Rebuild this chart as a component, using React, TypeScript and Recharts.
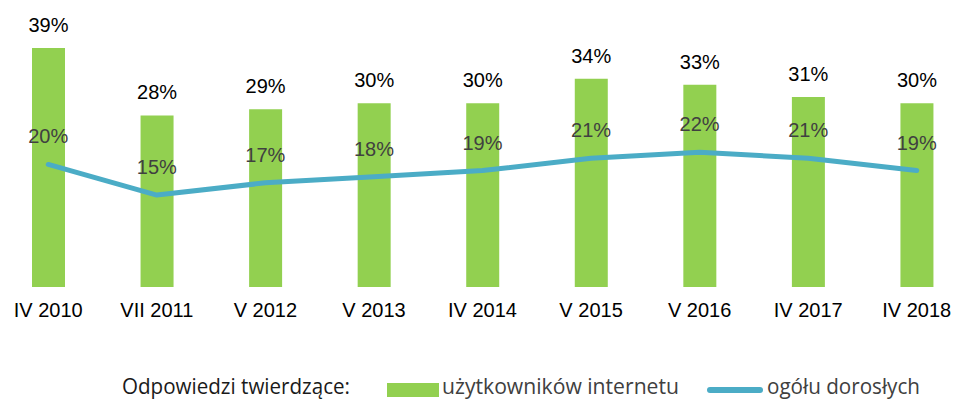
import React from 'react';
import { ComposedChart, Bar, Line, XAxis, YAxis, LabelList, Legend } from 'recharts';

const categories = ['IV 2010', 'VII 2011', 'V 2012', 'V 2013', 'IV 2014', 'V 2015', 'V 2016', 'IV 2017', 'IV 2018'];
const internetUsers = [39, 28, 29, 30, 30, 34, 33, 31, 30];
const allAdults = [20, 15, 17, 18, 19, 21, 22, 21, 19];
const legendTitle = 'Odpowiedzi twierdzące:';
const seriesNames = ['użytkowników internetu', 'ogółu dorosłych'];

const data = categories.map((c, i) => ({ name: c, internet: internetUsers[i], adults: allAdults[i] }));

const GREEN = '#92D050';
const BLUE = '#4BACC6';
const LEGEND_FONT = '"Open Sans", "Noto Sans", sans-serif';
const AXIS_FONT = '"Liberation Sans", Arial, sans-serif';

const LegendContent = () => (
  <svg width={977} height={35} style={{ display: 'block' }}>
    <g transform="translate(6,0)">
      <text x={122} y={24} fontFamily={LEGEND_FONT} fontSize={21} fill="#1a1a1a" textLength={228} lengthAdjust="spacingAndGlyphs">{legendTitle}</text>
      <rect x={387} y={13} width={52} height={14} fill={GREEN} />
      <text x={442} y={24} fontFamily={LEGEND_FONT} fontSize={21} fill="#404040" textLength={237} lengthAdjust="spacingAndGlyphs">{seriesNames[0]}</text>
      <line x1={710} y1={20} x2={760} y2={20} stroke={BLUE} strokeWidth={6} strokeLinecap="round" />
      <text x={767} y={24} fontFamily={LEGEND_FONT} fontSize={21} fill="#404040" textLength={153} lengthAdjust="spacingAndGlyphs">{seriesNames[1]}</text>
    </g>
  </svg>
);

export default function App() {
  return (
    <div style={{ position: 'fixed', left: 0, top: 0, width: 955, height: 405, overflow: 'hidden', background: '#fff' }}>
      <div style={{ position: 'absolute', left: -6, top: 0 }}>
        <ComposedChart
          width={977}
          height={405}
          data={data}
          margin={{ top: 48, right: 0, bottom: 88, left: 0 }}
          barCategoryGap={0}
        >
          <XAxis
            dataKey="name"
            axisLine={false}
            tickLine={false}
            tickSize={6}
            tickMargin={10}
            height={30}
            interval={0}
            tick={{ fontFamily: AXIS_FONT, fontSize: 20, fill: '#000' }}
          />
          <YAxis hide domain={[0, 39]} />
          <Legend
            layout="horizontal"
            verticalAlign="middle"
            align="center"
            content={LegendContent}
            wrapperStyle={{ position: 'absolute', top: 370, left: 0, width: 977, height: 35 }}
          />
          <Bar dataKey="internet" name={seriesNames[0]} fill={GREEN} barSize={33} isAnimationActive={false}>
            <LabelList
              dataKey="internet"
              position="top"
              offset={16}
              formatter={(v: any) => `${v}%`}
              style={{ fontFamily: AXIS_FONT, fontSize: 20, fill: '#000' }}
            />
          </Bar>
          <Line
            dataKey="adults"
            name={seriesNames[1]}
            type="linear"
            stroke={BLUE}
            strokeWidth={5}
            strokeLinecap="round"
            strokeLinejoin="round"
            dot={false}
            activeDot={false}
            isAnimationActive={false}
          >
            <LabelList
              dataKey="adults"
              position="top"
              offset={21}
              formatter={(v: any) => `${v}%`}
              style={{ fontFamily: AXIS_FONT, fontSize: 20, fill: '#404040' }}
            />
          </Line>
        </ComposedChart>
      </div>
    </div>
  );
}
